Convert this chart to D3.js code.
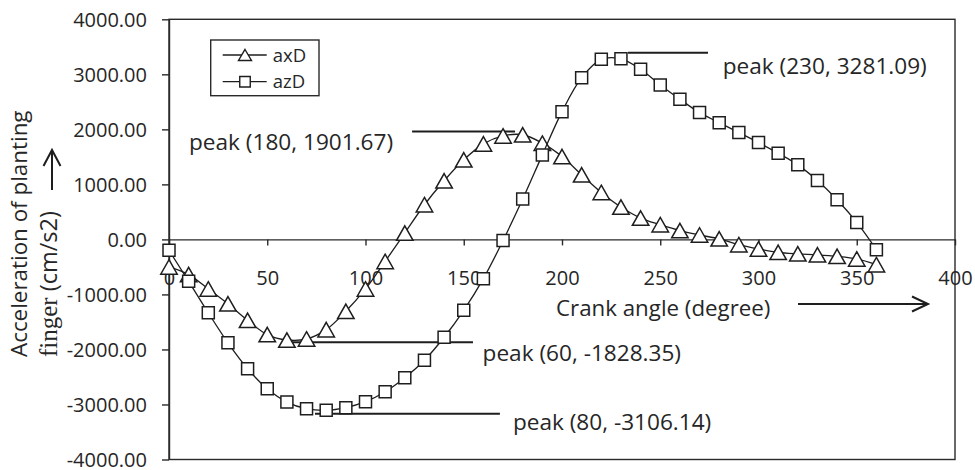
<!DOCTYPE html>
<html><head><meta charset="utf-8">
<script src="https://cdn.jsdelivr.net/npm/d3@7"></script>
<style>
body{margin:0;background:#fff}
svg{display:block}
text{font-family:"Open Sans",sans-serif;fill:#262626}
</style>
</head><body>
<svg id="c" width="975" height="470"></svg>
<script>
// ---- data ----
const angles = [0,10,20,30,40,50,60,70,80,90,100,110,120,130,140,150,160,170,180,190,200,210,220,230,240,250,260,270,280,290,300,310,320,330,340,350,360];
const axD = [-500,-640,-900,-1170,-1470,-1730,-1828.35,-1810,-1640,-1306,-900,-400,116,630,1065,1446,1736,1881,1901.67,1749,1506,1174,853,588,388,267,160,80,10,-96,-174,-235,-262,-280,-308,-356,-460];
const azD = [-199,-762,-1335,-1880,-2351,-2714,-2956,-3077,-3106.14,-3058,-2950,-2768,-2514,-2195,-1778,-1288,-713,-20,733,1536,2322,2939,3272,3281.09,3091,2806,2547,2304,2122,1941,1760,1567,1355,1070,720,308,-187];
const seriesNames = ["axD","azD"];
const xTickValues = [0,50,100,150,200,250,300,350,400];
const xTickLabels = ["0","50","100","150","200","250","300","350","400"];
const yTickValues = [-4000,-3000,-2000,-1000,0,1000,2000,3000,4000];
const yTickLabels = ["-4000.00","-3000.00","-2000.00","-1000.00","0.00","1000.00","2000.00","3000.00","4000.00"];
const peakLabels = ["peak (180, 1901.67)","peak (230, 3281.09)","peak (60, -1828.35)","peak (80, -3106.14)"];
const xTitle = "Crank angle (degree)";
const yTitle1 = "Acceleration of planting";
const yTitle2a = "finger", yTitle2b = " (cm/s2)";

// annotation placement (data units)
const annot = [
  {line:[123.7,176.1,1960], text:[10.2,1755]},
  {line:[233.6,274.3,3392], text:[281.8,3138]},
  {line:[59,154.7,-1868], text:[159.6,-2073]},
  {line:[74.3,168.4,-3167], text:[175,-3330]}
];

// ---- chart ----
const svg = d3.select("#c");
const ink = "#1e1e1e";
const x = d3.scaleLinear([0,400],[169,955]);
const y = d3.scaleLinear([-4000,4000],[459.5,19.3]);

// frame
svg.append("rect").attr("x",x(0)).attr("y",y(4000)).attr("width",x(400)-x(0)).attr("height",y(-4000)-y(4000))
  .attr("fill","none").attr("stroke","#2a2a2a").attr("stroke-width",1.4);

// y axis
const ya = svg.append("g").attr("transform",`translate(${x(0)},0)`)
  .call(d3.axisLeft(y).tickValues(yTickValues).tickSize(7).tickSizeOuter(0).tickFormat((d,i)=>yTickLabels[i]));
ya.select(".domain").attr("stroke","#2a2a2a").attr("stroke-width",1.4);
ya.selectAll(".tick line").attr("stroke","#2a2a2a").attr("stroke-width",1.4);
ya.selectAll(".tick text").attr("x",-22).attr("dy",null).attr("y",7)
  .style("font-size","20px").style("font-family","'Open Sans',sans-serif").attr("fill","#262626");

// x axis at zero
const xa = svg.append("g").attr("transform",`translate(0,${y(0)})`)
  .call(d3.axisBottom(x).tickValues(xTickValues).tickSize(6).tickSizeOuter(0).tickFormat((d,i)=>xTickLabels[i]));
xa.select(".domain").attr("stroke","#2a2a2a").attr("stroke-width",1.4);
xa.selectAll(".tick line").attr("stroke","#2a2a2a").attr("stroke-width",1.4);
xa.selectAll(".tick text").attr("dy",null).attr("y",45.5)
  .style("font-size","20px").style("font-family","'Open Sans',sans-serif").attr("fill","#262626");

// annotations
annot.forEach((a,i)=>{
  svg.append("line").attr("x1",x(a.line[0])).attr("x2",x(a.line[1])).attr("y1",y(a.line[2])).attr("y2",y(a.line[2]))
    .attr("stroke",ink).attr("stroke-width",2);
  svg.append("text").attr("x",x(a.text[0])).attr("y",y(a.text[1])+7.5).style("font-size","22.6px").text(peakLabels[i]);
});

// series
const line = d3.line().x((d,i)=>x(angles[i])).y(d=>y(d)).curve(d3.curveCatmullRom.alpha(0.5));
const triPath = (w,h)=>`M0,${-h/2}L${w/2},${h/2}L${-w/2},${h/2}Z`;
const sqPath = (s)=>`M${-s/2},${-s/2}h${s}v${s}h${-s}Z`;
const markers = [triPath(16.5,14.5), sqPath(12)];
[axD,azD].forEach((vals,si)=>{
  svg.append("path").attr("d",line(vals)).attr("fill","none").attr("stroke",ink).attr("stroke-width",1.3);
  svg.append("g").selectAll("path").data(vals).join("path")
    .attr("transform",(d,i)=>`translate(${x(angles[i])},${y(d)})`)
    .attr("d",markers[si]).attr("fill","#fff").attr("stroke",ink).attr("stroke-width",1.5);
});

// legend
const lg = svg.append("g");
lg.append("rect").attr("x",210.7).attr("y",40).attr("width",108.3).attr("height",55.7)
  .attr("fill","#fff").attr("stroke","#2a2a2a").attr("stroke-width",1.4);
const legMarkers = [triPath(13,11), sqPath(10.5)];
seriesNames.forEach((n,i)=>{
  const ly = 55 + i*26.7;
  lg.append("line").attr("x1",222.7).attr("x2",266.7).attr("y1",ly).attr("y2",ly).attr("stroke",ink).attr("stroke-width",1.3);
  lg.append("path").attr("transform",`translate(245,${ly})`).attr("d",legMarkers[i]).attr("fill","#fff").attr("stroke",ink).attr("stroke-width",1.4);
  lg.append("text").attr("x",272.7).attr("y",ly+6.5).style("font-size","18.5px").text(n);
});

// x title + arrow
svg.append("text").attr("x",556).attr("y",316).style("font-size","22.3px").text(xTitle);
svg.append("path").attr("d","M798,304L927,304M912,296.5L928,304L912,311.5").attr("fill","none").attr("stroke",ink).attr("stroke-width",2);

// y title + arrow
svg.append("text").attr("transform","translate(27,357) rotate(-90)").style("font-size","22.4px").text(yTitle1);
const t2 = svg.append("text").attr("transform","translate(57,357) rotate(-90)").style("font-size","23.5px");
t2.append("tspan").style("font-family","'Liberation Serif',serif").style("font-size","25px").text(yTitle2a);
t2.append("tspan").text(yTitle2b);
svg.append("path").attr("d","M52,190L52,151M43.5,166L52,150L60.5,166").attr("fill","none").attr("stroke",ink).attr("stroke-width",2);
</script>
</body></html>
